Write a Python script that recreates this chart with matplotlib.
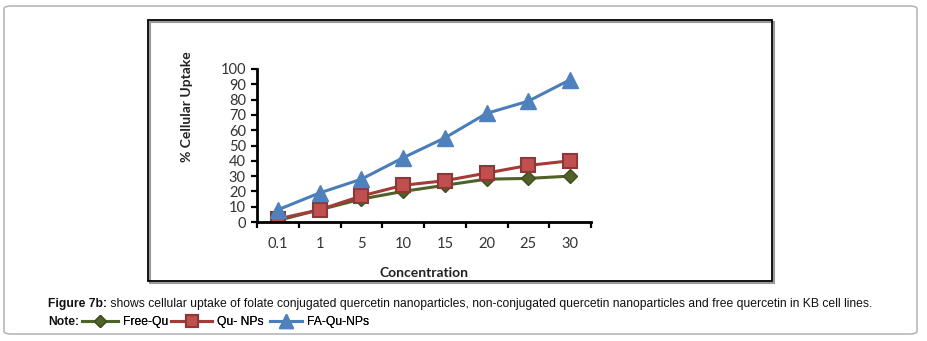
import matplotlib
matplotlib.use('Agg')
import matplotlib.pyplot as plt
from matplotlib import font_manager
from matplotlib.patches import FancyBboxPatch, Rectangle

concentrations = ['0.1', '1', '5', '10', '15', '20', '25', '30']
free_qu = [1, 8, 15, 20, 24, 28, 28.5, 30]
qu_nps = [2, 8, 17, 24, 27, 32, 37, 40]
fa_qu_nps = [8, 19, 28, 42, 55, 71, 79, 93]
y_ticks = [0, 10, 20, 30, 40, 50, 60, 70, 80, 90, 100]

caption_bold = 'Figure 7b:'
caption_rest = (' shows cellular uptake of folate conjugated quercetin nanoparticles, '
                'non-conjugated quercetin nanoparticles and free quercetin in KB cell lines.')

names = {f.name for f in font_manager.fontManager.ttflist}
cap_font = 'Liberation Sans Narrow' if 'Liberation Sans Narrow' in names else 'Liberation Sans'
chart_font = 'Lato'

W, H = 927, 341
fig = plt.figure(figsize=(W / 100, H / 100), dpi=100)

def fx(px):
    return px / W

def fy(py):
    return 1 - py / H

# outer rounded frame
fig.patches.append(FancyBboxPatch((fx(4), fy(334)), fx(913), 328 / H,
                                  boxstyle='round,pad=0,rounding_size=0.008',
                                  transform=fig.transFigure, fill=False,
                                  edgecolor='#b8b8b8', linewidth=1.2))
# inner chart frame with a soft shadow
fig.patches.append(Rectangle((fx(150), fy(283)), fx(624), 261 / H, transform=fig.transFigure,
                             fill=False, edgecolor='#9a9a9a', linewidth=1.5))
fig.patches.append(Rectangle((fx(148), fy(281)), fx(624), 261 / H, transform=fig.transFigure,
                             fill=False, edgecolor='black', linewidth=1.3))

ax = fig.add_axes([fx(257), fy(222), fx(591 - 257), (222 - 69) / H])
x = list(range(len(concentrations)))

ax.plot(x, free_qu, color='#4F6228', linewidth=2.2, marker='D', markersize=7,
        markerfacecolor='#4F6228', markeredgecolor='#3d4d1e', label='Free-Qu')
ax.plot(x, qu_nps, color='#A33B38', linewidth=2.2, marker='s', markersize=10.5,
        markerfacecolor='#C0504D', markeredgecolor='#8C3836', markeredgewidth=1.5, label='Qu- NPs')
ax.plot(x, fa_qu_nps, color='#4A7EBB', linewidth=2.2, marker='^', markersize=12,
        markerfacecolor='#4F81BD', markeredgecolor='#4F81BD', label='FA-Qu-NPs')

ax.set_xlim(-0.5, len(concentrations) - 0.5)
ax.set_ylim(0, 100)
ax.set_yticks(y_ticks)
ax.set_xticks(x)
ax.set_xticklabels(concentrations, fontfamily=chart_font, fontsize=10.5, color='#333333')
ax.set_yticklabels([str(v) for v in y_ticks], fontfamily=chart_font, fontsize=10.5, color='#333333')
ax.set_xticks([i + 0.5 for i in range(-1, len(concentrations))], minor=True)
ax.tick_params(axis='x', which='major', length=0, pad=11)
ax.tick_params(axis='x', which='minor', length=4, width=1.6, direction='out')
ax.tick_params(axis='y', length=4, width=1.6, direction='out', pad=4)
for side in ('top', 'right'):
    ax.spines[side].set_visible(False)
for side in ('left', 'bottom'):
    ax.spines[side].set_linewidth(2)
ax.patch.set_alpha(0)

ax.set_xlabel('Concentration', fontfamily=chart_font, fontsize=10, fontweight='bold',
              color='#222222', labelpad=11)
fig.text(fx(187), fy(107), '% Cellular Uptake', rotation=90, ha='center', va='center',
         fontfamily=chart_font, fontsize=10, fontweight='bold', color='#222222')

# caption, fitted to the width it has in the figure
canvas = fig.canvas
renderer = canvas.get_renderer()
target = 874 - 48
size = 10
for _ in range(3):
    t1 = fig.text(fx(48), fy(304), caption_bold, fontfamily=cap_font, fontsize=size,
                  fontweight='bold', va='center', color='#111111')
    w1 = t1.get_window_extent(renderer).width
    t2 = fig.text(fx(48 + w1), fy(304), caption_rest, fontfamily=cap_font, fontsize=size,
                  va='center', color='#111111')
    w2 = t2.get_window_extent(renderer).width
    t1.remove()
    t2.remove()
    size = size * target / (w1 + w2)
t1 = fig.text(fx(48), fy(304), caption_bold, fontfamily=cap_font, fontsize=size,
              fontweight='bold', va='center', color='#111111')
w1 = t1.get_window_extent(renderer).width
fig.text(fx(48 + w1), fy(304), caption_rest, fontfamily=cap_font, fontsize=size,
         va='center', color='#111111')

# legend row: "Note:" then one small legend per series
fig.text(fx(48), fy(322), 'Note:', fontfamily=cap_font, fontsize=size, fontweight='bold',
         va='center', color='#111111')
em = size * 100 / 72
handles, labels = ax.get_legend_handles_labels()
key_left = [82, 171, 270]
key_len = [36, 41, 32]
for h, lab, left, length in zip(handles, labels, key_left, key_len):
    leg = fig.legend([h], [lab], loc='center left', bbox_to_anchor=(fx(left), fy(322)),
                     frameon=False, prop={'family': cap_font, 'size': size},
                     handlelength=length / em, handletextpad=5 / em, borderpad=0,
                     borderaxespad=0, markerscale=0.85)
    fig.add_artist(leg)

fig.savefig('out.png', dpi=100)
